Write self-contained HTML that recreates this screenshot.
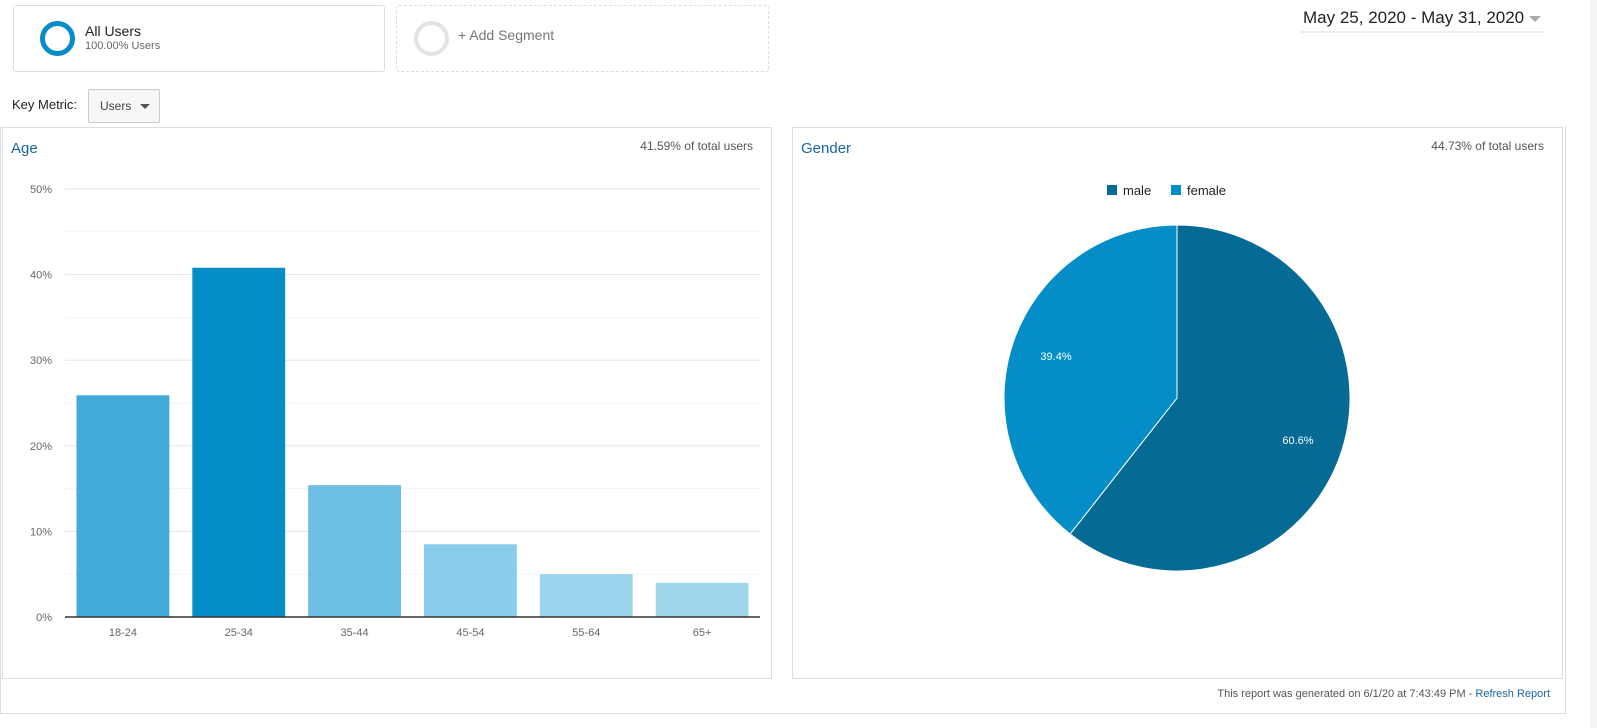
<!DOCTYPE html>
<html><head><meta charset="utf-8">
<style>
*{box-sizing:border-box}
body{margin:0;width:1597px;height:728px;background:#fff;font-family:"Liberation Sans",sans-serif;position:relative;overflow:hidden}
.abs{position:absolute}
.panel{position:absolute;border:1px solid #ddd;background:#fff}
.title{position:absolute;left:8px;top:12px;font-size:15px;color:#1a66a5}
.pct{position:absolute;right:18px;top:11px;font-size:12px;color:#555}
</style></head><body>
<div class="abs" style="left:1590px;top:0;width:7px;height:728px;background:#f4f4f4"></div>
<div class="abs" style="left:13px;top:5px;width:372px;height:67px;border:1px solid #ddd;border-radius:3px">
  <div class="abs" style="left:26px;top:15px;width:35px;height:35px;border:5px solid #058dc7;border-radius:50%"></div>
  <div class="abs" style="left:71px;top:17px;font-size:14px;color:#222">All Users</div>
  <div class="abs" style="left:71px;top:34px;font-size:11px;color:#666">100.00% Users</div>
</div>
<div class="abs" style="left:396px;top:5px;width:373px;height:67px;border:1px dashed #ddd;border-radius:3px">
  <div class="abs" style="left:17px;top:15px;width:35px;height:35px;border:4px solid #e3e3e3;border-radius:50%"></div>
  <div class="abs" style="left:61px;top:21px;font-size:14px;color:#777">+ Add Segment</div>
</div>
<div class="abs" style="left:1300px;top:6px;width:245px;height:27px;border-bottom:2px solid #eee">
  <span style="position:absolute;left:3px;top:2px;font-size:17px;color:#222">May 25, 2020 - May 31, 2020</span>
  <span style="position:absolute;left:229px;top:10px;width:0;height:0;border-left:6px solid transparent;border-right:6px solid transparent;border-top:6px solid #aaa"></span>
</div>
<div class="abs" style="left:12px;top:97px;font-size:13px;color:#222">Key Metric:</div>
<div class="abs" style="left:88px;top:89px;width:72px;height:34px;border:1px solid #ccc;border-radius:2px;background:#f7f7f7">
  <span style="position:absolute;left:11px;top:9px;font-size:12px;color:#444">Users</span>
  <span style="position:absolute;left:51px;top:14px;border-left:5px solid transparent;border-right:5px solid transparent;border-top:5px solid #555"></span>
</div>
<div class="abs" style="left:0;top:126px;width:1566px;height:588px;border:1px solid #ddd;border-top:none"></div>

<div class="panel" style="left:2px;top:127px;width:770px;height:552px">
  <div class="title">Age</div>
  <div class="pct">41.59% of total users</div>
</div>
<div class="panel" style="left:792px;top:127px;width:771px;height:552px">
  <div class="title">Gender</div>
  <div class="pct">44.73% of total users</div>
</div>
<svg class="abs" style="left:0;top:0" width="1597" height="728" id="svg"></svg>
<div class="abs" style="right:47px;top:688px;font-size:11px;color:#555">This report was generated on 6/1/20 at 7:43:49 PM - <span style="color:#1a66a5">Refresh Report</span></div>
<script>
const ageCategories=["18-24","25-34","35-44","45-54","55-64","65+"];
const ageValues=[25.9,40.8,15.4,8.5,5.0,4.0];
const ageColors=["#42aad9","#058dc7","#6cbee2","#89cdea","#9ad4ed","#a0d7ef"];
const yTicks=[0,10,20,30,40,50];
const genderLabels=["male","female"];
const genderValues=[60.6,39.4];
const genderColors=["#056a94","#058dc7"];

const NS="http://www.w3.org/2000/svg";
const svg=document.getElementById('svg');
function mk(t,a,p){const e=document.createElementNS(NS,t);for(const k in a)e.setAttribute(k,a[k]);(p||svg).appendChild(e);return e;}
const x0=65,x1=760,y0=617,y50=189;
const yS=v=>y0-(y0-y50)*v/50;
const band=(x1-x0)/ageCategories.length;
const xS=i=>x0+band*i;
// minor grid
for(let v=5;v<=45;v+=10){const g=mk('line',{x1:x0,x2:x1,y1:yS(v),y2:yS(v),stroke:'#f3f3f3'});

}
yTicks.forEach(v=>{
 if(v>0){const g=mk('line',{x1:x0,x2:x1,y1:yS(v),y2:yS(v),stroke:'#e6e6e6'});
 
 }
 const t=mk('text',{x:52,y:yS(v)+4,'text-anchor':'end','font-size':11,fill:'#666','font-family':'Liberation Sans'});
 t.textContent=v+'%';
 
 
});
ageValues.forEach((v,i)=>{
 const bx=xS(i)+11.5, bw=band-23;
 const r=mk('rect',{x:bx,y:yS(v),width:bw,height:y0-yS(v),fill:ageColors[i]});
 
 
 const t=mk('text',{x:xS(i)+band/2,y:636,'text-anchor':'middle','font-size':11,fill:'#666','font-family':'Liberation Sans'});
 t.textContent=ageCategories[i];
 
 
});
const ax=mk('line',{x1:x0,x2:x1,y1:y0,y2:y0,stroke:'#333','stroke-width':1.5});


// pie
const cx=1177,cy=398,R=173;
let a=0;const tot=genderValues.reduce((s,v)=>s+v,0);
genderValues.forEach((v,i)=>{
 const a1=a+v/tot*2*Math.PI;
 const p=(t)=>[cx+R*Math.sin(t),cy-R*Math.cos(t)];
 const [sx,sy]=p(a),[ex,ey]=p(a1);
 const s=mk('path',{d:`M${cx},${cy}L${sx},${sy}A${R},${R} 0 ${a1-a>Math.PI?1:0} 1 ${ex},${ey}Z`,fill:genderColors[i],stroke:'#fff','stroke-width':1});
 
 
 const m=(a+a1)/2;
 const t=mk('text',{x:cx+R*0.74*Math.sin(m),y:cy-R*0.74*Math.cos(m)+4,'text-anchor':'middle','font-size':11,fill:'#fff','font-family':'Liberation Sans'});
 t.textContent=v.toFixed(1)+'%';
 
 
 a=a1;
});
// legend
const lx=[1107,1171];
genderLabels.forEach((l,i)=>{
 const r=mk('rect',{x:lx[i],y:185,width:10,height:10,fill:genderColors[i]});
 
 
 const t=mk('text',{x:lx[i]+16,y:195,'font-size':13,fill:'#222','font-family':'Liberation Sans'});
 t.textContent=l;
 
 
});
</script>
</body></html>
